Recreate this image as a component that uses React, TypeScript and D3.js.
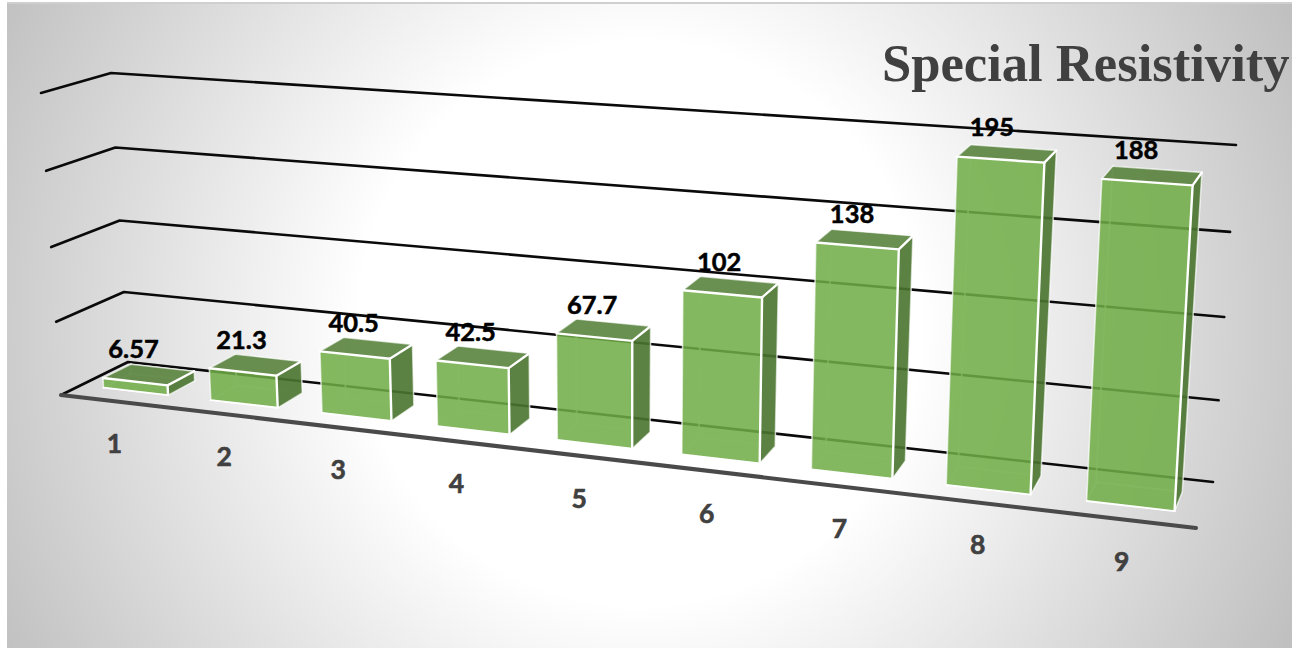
import React from "react";
import * as d3 from "d3";

const categories = ["1", "2", "3", "4", "5", "6", "7", "8", "9"];
const resistivity = [6.57, 21.3, 40.5, 42.5, 67.7, 102, 138, 195, 188];
const gridLevels = [0, 50, 100, 150, 200];
const chartTitle = "Special Resistivity";

type Pt = [number, number];

// Corners of the 3D box: floor and ceiling, front and back edges.
const floorFront: [Pt, Pt] = [[61, 395], [1196, 528]];
const floorBack: [Pt, Pt] = [[128, 362], [1213, 482]];
const ceilFront: [Pt, Pt] = [[41, 93], [1215, 175]];
const ceilBack: [Pt, Pt] = [[111, 73], [1236, 145]];

const CATEGORY_PERSPECTIVE = -0.16;
const GRID_PERSPECTIVE = -0.04;
const BAR_PERSPECTIVE = -0.02;
const BAR_LEFT = 0.215;
const BAR_RIGHT = 0.82;
const BAR_FRONT = 0.3;
const BAR_BACK = 0.72;

const warp = (t: number, k: number) => (t * (1 + k)) / (1 + k * t);
const slotScale = d3.scaleLinear().domain([0, categories.length]).range([0, 1]);
const valueScale = d3.scaleLinear().domain([0, 200]).range([0, 1]);

const mix = (a: Pt, b: Pt, t: number): Pt => [
  d3.interpolateNumber(a[0], b[0])(t),
  d3.interpolateNumber(a[1], b[1])(t),
];

// Projects (category slot, depth 0..1, value) to page coordinates.
function project(slot: number, depth: number, value: number, k = GRID_PERSPECTIVE): Pt {
  const s = warp(slotScale(slot), CATEGORY_PERSPECTIVE);
  const h = warp(valueScale(value), k);
  const base = mix(mix(floorFront[0], floorFront[1], s), mix(floorBack[0], floorBack[1], s), depth);
  const top = mix(mix(ceilFront[0], ceilFront[1], s), mix(ceilBack[0], ceilBack[1], s), depth);
  return mix(base, top, h);
}

const pathOf = d3.line<Pt>();
const face = (pts: Pt[]) => (pathOf(pts) as string) + "Z";
const open = (pts: Pt[]) => pathOf(pts) as string;

function Bar({ index, value }: { index: number; value: number }) {
  const x0 = index + BAR_LEFT;
  const x1 = index + BAR_RIGHT;
  const P = (x: number, z: number, v: number) => project(x, z, v, BAR_PERSPECTIVE);
  const ftl = P(x0, BAR_FRONT, value);
  const ftr = P(x1, BAR_FRONT, value);
  const fbl = P(x0, BAR_FRONT, 0);
  const fbr = P(x1, BAR_FRONT, 0);
  const btl = P(x0, BAR_BACK, value);
  const btr = P(x1, BAR_BACK, value);
  const bbl = P(x0, BAR_BACK, 0);
  const bbr = P(x1, BAR_BACK, 0);
  const hidden = { stroke: "#ffffff", strokeOpacity: 0.4, strokeWidth: 1.8, fill: "#70AD47", fillOpacity: 0.08 };
  const bright = { stroke: "#ffffff", strokeWidth: 2.4, fill: "none", strokeLinecap: "round" as const, strokeLinejoin: "round" as const };
  const soft = { stroke: "#ffffff", strokeOpacity: 0.6, strokeWidth: 1.4, fill: "none", strokeLinecap: "round" as const };
  return (
    <g>
      {/* Hidden faces seen through the translucent shell */}
      <path d={face([bbl, bbr, btr, btl])} {...hidden} />
      <path d={face([fbl, fbr, bbr, bbl])} {...hidden} />
      <path d={face([fbl, ftl, btl, bbl])} {...hidden} />
      {/* Visible faces */}
      <path d={face([fbr, bbr, btr, ftr])} fill="#4A7430" fillOpacity={0.9} />
      <path d={face([ftl, ftr, btr, btl])} fill="#557F3A" fillOpacity={0.88} />
      <path d={face([fbl, fbr, ftr, ftl])} fill="#70AD47" fillOpacity={0.85} />
      {/* Edges */}
      <path d={open([fbl, ftl])} {...soft} />
      <path d={open([btl, btr, bbr, fbr])} {...soft} />
      <path d={open([ftl, btl])} {...soft} />
      <path d={open([fbl, fbr])} {...bright} strokeWidth={1.8} />
      <path d={open([ftl, ftr, fbr])} {...bright} />
      <path d={open([ftr, btr])} {...bright} />
    </g>
  );
}

export default function App() {
  return (
    <svg
      width={1292}
      height={648}
      viewBox="0 0 1292 648"
      style={{ position: "absolute", left: 0, top: 0, display: "block" }}
    >
      <defs>
        <radialGradient id="panelShade" gradientUnits="userSpaceOnUse" cx={640} cy={324} r={720}>
          <stop offset="0%" stopColor="#ffffff" />
          <stop offset="39%" stopColor="#ffffff" />
          <stop offset="100%" stopColor="#c0c0c0" />
        </radialGradient>
      </defs>
      <rect x={0} y={0} width={1292} height={648} fill="#ffffff" />
      <rect x={7} y={3} width={1285} height={645} fill="url(#panelShade)" />
      <line x1={7} x2={1292} y1={3} y2={3} stroke="#cfcfcf" strokeWidth={2} />

      {/* Walls and floor gridlines */}
      {gridLevels.map((level) => (
        <path
          key={level}
          d={open([
            project(0, 0, level),
            project(0, 1, level),
            project(categories.length, 1, level),
          ])}
          fill="none"
          stroke="#0a0a0a"
          strokeWidth={2.6}
          strokeLinecap="round"
          strokeLinejoin="round"
        />
      ))}
      <path
        d={open([project(0, 0, 0), project(categories.length, 0, 0)])}
        fill="none"
        stroke="#4a4a4a"
        strokeWidth={4}
        strokeLinecap="round"
      />

      {resistivity.map((value, i) => (
        <Bar key={i} index={i} value={value} />
      ))}

      {/* Value labels */}
      {resistivity.map((value, i) => {
        const top = project(i + 0.5, BAR_FRONT, value, BAR_PERSPECTIVE);
        const base = project(i + 0.5, BAR_FRONT, 0, BAR_PERSPECTIVE);
        return (
          <text
            key={i}
            x={(top[0] + base[0]) / 2}
            y={top[1] - 23}
            textAnchor="middle"
            fontFamily="Lato, sans-serif"
            fontWeight={700}
            fontSize={25.5}
            fill="#000000"
            stroke="#000000"
            strokeWidth={0.5}
          >
            {String(value)}
          </text>
        );
      })}

      {/* Category labels */}
      {categories.map((name, i) => {
        const p = project(i + 0.5, 0, 0);
        return (
          <text
            key={name}
            x={p[0]}
            y={p[1] + 52}
            textAnchor="middle"
            fontFamily="Lato, sans-serif"
            fontWeight={700}
            fontSize={26.5}
            fill="#404040"
            stroke="#404040"
            strokeWidth={0.6}
          >
            {name}
          </text>
        );
      })}

      <text
        x={882}
        y={81}
        fontFamily="'Liberation Serif', serif"
        fontWeight={700}
        fontSize={52.6}
        fill="#404040"
      >
        {chartTitle}
      </text>
    </svg>
  );
}
